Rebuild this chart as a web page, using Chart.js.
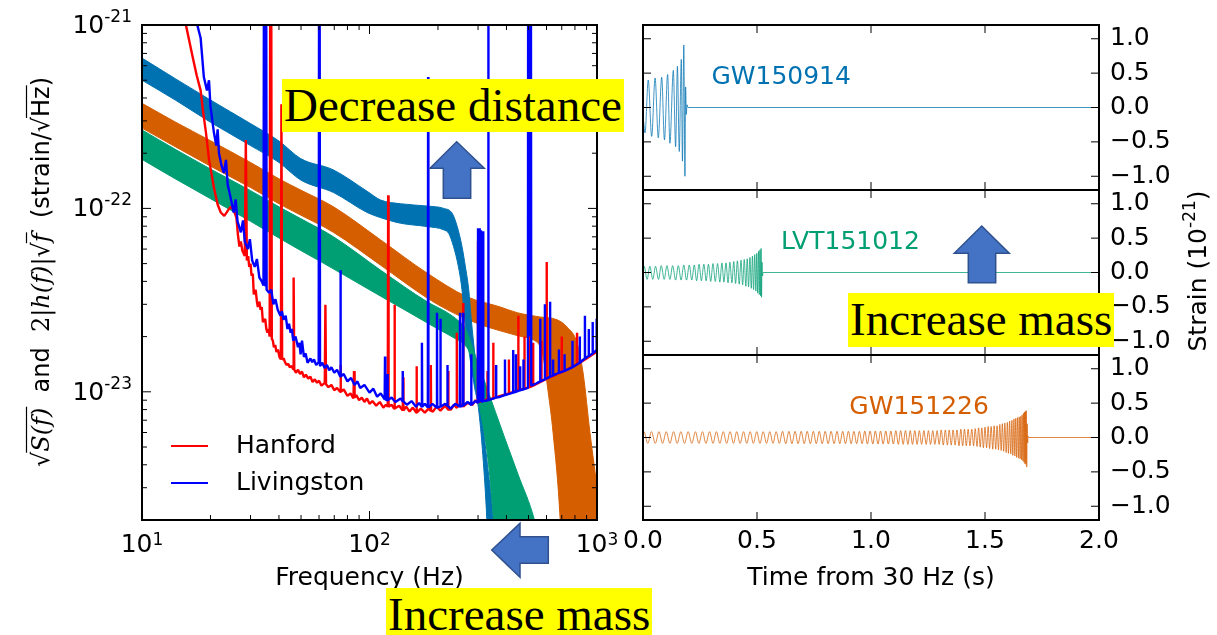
<!DOCTYPE html>
<html>
<head>
<meta charset="utf-8">
<title>GW events: sensitivity and waveforms</title>
<script src="https://cdn.jsdelivr.net/npm/chart.js@4.4.1/dist/chart.umd.min.js"></script>
<style>
  html, body { margin: 0; padding: 0; background: #fff; }
  #page { position: relative; width: 1217px; height: 635px; overflow: hidden; }
  canvas { position: absolute; top: 0; }
  #psd { left: 0; }
  #wave { left: 600px; }
  .note {
    position: absolute; background: #ffff00; color: #000;
    font-family: 'Liberation Serif', 'Times New Roman', serif;
    font-size: 47px; line-height: 53px; height: 53px;
    padding: 0 2px; white-space: nowrap;
  }
  svg { position: absolute; left: 0; top: 0; }
</style>
</head>
<body>
<div id="page">
  <canvas id="psd" width="640" height="635"></canvas>
  <canvas id="wave" width="617" height="635"></canvas>
  <div class="note" style="left:282px; top:79px;">Decrease distance</div>
  <div class="note" style="left:848px; top:293px; height:54px;">Increase mass</div>
  <div class="note" style="left:386px; top:588px;">Increase mass</div>
  <svg width="1217" height="635">
    <polygon points="456.7,141.7 484.3,168.3 470.7,168.3 470.7,198.3 443.3,198.3 443.3,168.3 430,168.3" fill="#4472c4" stroke="#2f528f" stroke-width="1.5"/>
    <polygon points="981.7,226 1009.3,253.3 995.7,253.3 995.7,282.7 968.3,282.7 968.3,253.3 954.3,253.3" fill="#4472c4" stroke="#2f528f" stroke-width="1.5"/>
    <polygon points="491.7,550 520,523.3 520,536.7 548.3,536.7 548.3,563.3 520,563.3 520,577.3" fill="#4472c4" stroke="#2f528f" stroke-width="1.5"/>
  </svg>
</div>

<script>
// ---------- left panel: detector noise, [frequency Hz, strain/sqrt(Hz)]
const hanford = [
  [14.5, 3.0e-21], [15.6, 1.0e-21], [16.7, 6.7e-22], [17.4, 5.3e-22], [18.1, 4.4e-22], [18.6, 3.3e-22],
  [19.1, 2.6e-22], [19.7, 1.85e-22], [20.7, 1.3e-22], [21.5, 1.05e-22], [22.2, 9.5e-23], [23.0, 9.1e-23],
  [23.8, 9.7e-23], [24.5, 1.02e-22], [25.3, 9.8e-23], [26.0, 8.9e-23], [26.4, 7.2e-23], [26.8, 6.2e-23],
  [27.2, 6.6e-23], [27.6, 5.9e-23], [28.3, 5.5e-23], [28.6, 2.36e-22], [28.9, 5.2e-23], [29.3, 5.5e-23],
  [29.6, 4.8e-23], [30.0, 5.0e-23], [30.3, 4.3e-23], [30.7, 4.4e-23], [31.0, 3.4e-23], [31.6, 3.6e-23],
  [32.0, 3.1e-23], [32.3, 2.9e-23], [32.8, 3.1e-23], [33.2, 2.8e-23], [33.6, 2.9e-23], [34.0, 2.4e-23],
  [34.8, 2.5e-23], [35.2, 2.2e-23], [35.6, 2.1e-23], [36.0, 2.2e-23], [36.4, 2.0e-23], [36.8, 1.0e-19],
  [37.2, 1.95e-23], [37.6, 1.9e-23], [38.0, 1.75e-23], [38.5, 1.8e-23], [39.0, 1.65e-23], [39.6, 1.7e-23],
  [40.2, 1.55e-23], [40.8, 1.5e-23], [41.0, 3.7e-22], [41.3, 1.5e-23], [42.0, 1.52e-23], [42.5, 1.45e-23],
  [43.2, 1.40e-23], [44.0, 1.42e-23], [44.6, 1.36e-23], [45.5, 1.38e-23], [46.2, 1.33e-23], [46.4, 4.2e-23],
  [46.7, 1.32e-23], [47.5, 1.27e-23], [48.5, 1.32e-23], [49.5, 1.25e-23], [50.5, 1.29e-23], [51.5, 1.2e-23],
  [52.5, 1.24e-23], [53.8, 1.18e-23], [55.0, 1.21e-23], [56.2, 1.13e-23], [57.5, 1.17e-23], [58.8, 1.12e-23],
  [60.0, 1.15e-23], [61.5, 1.08e-23], [63.6, 1.12e-23], [64.0, 2.98e-23], [64.4, 1.1e-23], [66, 1.06e-23],
  [68, 1.09e-23], [70, 1.02e-23], [72, 1.05e-23], [74.3, 1.0e-23], [74.6, 1.4e-23], [74.9, 1.0e-23],
  [77, 1.03e-23], [80, 9.5e-24], [82.5, 9.8e-24], [85, 9.2e-24], [85.5, 1.3e-23], [86, 9.3e-24],
  [87.5, 9.6e-24], [90, 9.0e-24], [92.5, 9.3e-24], [95, 8.8e-24], [97.5, 9.2e-24], [100, 8.6e-24],
  [103, 8.9e-24], [107, 8.4e-24], [111, 8.8e-24], [115, 8.2e-24], [118, 8.5e-24], [120.3, 8.3e-24],
  [120.8, 1.18e-22], [121.3, 8.3e-24], [125, 8.5e-24], [128.3, 8.1e-24], [128.8, 2.98e-23], [129.3, 8.1e-24],
  [135, 8.4e-24], [140, 7.9e-24], [140.5, 1.2e-23], [141, 7.9e-24], [145, 8.3e-24], [150, 7.8e-24],
  [155, 8.2e-24], [160.5, 7.7e-24], [161, 1.38e-23], [161.5, 7.7e-24], [168, 8.1e-24], [175, 7.7e-24],
  [182, 8.1e-24], [185.5, 7.9e-24], [186, 1.4e-23], [186.5, 7.9e-24], [190, 7.8e-24], [197, 8.3e-24],
  [205, 7.9e-24], [215, 8.4e-24], [221.5, 8.0e-24], [222, 1.3e-23], [222.5, 8.0e-24], [228, 8.0e-24],
  [235, 8.5e-24], [241.5, 8.2e-24], [242, 2.1e-23], [242.5, 8.2e-24], [250, 8.6e-24], [257.5, 8.3e-24],
  [258, 3.05e-23], [258.5, 8.3e-24], [270, 8.7e-24], [284, 8.5e-24], [292, 9.0e-24], [299.5, 8.7e-24],
  [300, 6.6e-23], [300.5, 8.8e-24], [320, 9.0e-24], [329.5, 9.1e-24], [330, 1.3e-23], [330.5, 9.1e-24],
  [349.5, 9.2e-24], [350, 1.85e-23], [350.5, 9.2e-24], [376, 9.5e-24], [409.5, 9.8e-24], [410, 1.5e-23],
  [410.5, 9.8e-24], [450.5, 1.02e-23], [451, 2.6e-23], [451.5, 1.02e-23], [479.5, 1.04e-23], [480, 2.0e-23],
  [480.5, 1.04e-23], [505, 1.06e-23], [506, 4.0e-23], [507, 1.06e-23], [523.5, 1.08e-23], [524, 1.85e-23],
  [524.5, 1.08e-23], [569.5, 1.14e-23], [570, 1.9e-23], [570.5, 1.14e-23], [600.5, 1.18e-23], [601, 5.1e-23],
  [601.5, 1.18e-23], [650, 1.23e-23], [699.5, 1.28e-23], [700, 2.0e-23], [700.5, 1.28e-23], [736, 1.32e-23],
  [816.5, 1.41e-23], [817, 2.1e-23], [817.5, 1.41e-23], [900, 1.52e-23], [1000, 1.66e-23]
];

const livingston = [
  [16.2, 5.0e-21], [17.5, 1.0e-21], [18.1, 8.5e-22], [18.7, 5.2e-22], [19.3, 4.4e-22], [19.7, 5.0e-22],
  [20.0, 3.6e-22], [20.7, 2.6e-22], [21.2, 2.2e-22], [21.5, 2.7e-22], [21.8, 2.0e-22], [22.4, 1.7e-22],
  [22.9, 1.56e-22], [23.4, 1.84e-22], [23.8, 1.35e-22], [24.5, 1.15e-22], [25.3, 9.5e-23], [25.8, 1.12e-22],
  [26.3, 8.5e-23], [27.2, 7.4e-23], [27.8, 8.6e-23], [28.3, 6.6e-23], [29.2, 6.0e-23], [29.8, 6.8e-23],
  [30.5, 5.2e-23], [31.3, 4.8e-23], [32.0, 5.3e-23], [32.8, 4.2e-23], [33.6, 4.0e-23], [34.2, 3.8e-23],
  [34.5, 1.0e-19], [34.75, 3.8e-23], [35.0, 1.0e-19], [35.3, 3.6e-23], [36.2, 3.47e-23], [37.0, 3.6e-23],
  [37.8, 3.0e-23], [38.6, 3.2e-23], [39.5, 2.8e-23], [40.6, 2.6e-23], [41.2, 2.75e-23], [41.9, 2.47e-23],
  [42.8, 2.6e-23], [43.6, 2.2e-23], [44.3, 2.35e-23], [45.0, 2.1e-23], [45.6, 2.2e-23], [46.2, 1.9e-23],
  [47.3, 2.0e-23], [48.5, 1.75e-23], [49.2, 1.85e-23], [49.8, 1.6e-23], [50.5, 1.9e-23], [51.5, 1.55e-23],
  [52.4, 1.62e-23], [53.4, 1.44e-23], [55.0, 1.52e-23], [56.0, 1.45e-23], [57.0, 1.5e-23], [58.3, 1.4e-23],
  [59.8, 1.45e-23], [60.2, 1.0e-19], [60.6, 1.38e-23], [62, 1.44e-23], [63.5, 1.35e-23], [65, 1.4e-23],
  [66.5, 1.31e-23], [68, 1.36e-23], [70, 1.27e-23], [72, 1.32e-23], [74.2, 1.22e-23], [74.5, 4.6e-23],
  [74.8, 1.21e-23], [77, 1.25e-23], [80, 1.14e-23], [83, 1.19e-23], [86, 1.09e-23], [88.5, 1.14e-23],
  [91, 1.05e-23], [95, 1.09e-23], [100, 9.9e-24], [104, 1.04e-23], [108, 9.4e-24], [112, 9.8e-24],
  [116.6, 9.1e-24], [117, 1.56e-23], [117.4, 9.1e-24], [119.6, 9.0e-24], [120, 1.25e-23], [120.4, 9.0e-24],
  [125, 9.3e-24], [130, 8.8e-24], [137, 9.2e-24], [139.5, 8.9e-24], [140, 1.3e-23], [140.5, 8.9e-24],
  [146, 8.5e-24], [153, 8.9e-24], [160, 8.3e-24], [165, 8.7e-24], [169.5, 8.3e-24], [170, 1.85e-23],
  [170.5, 8.3e-24], [175, 8.6e-24], [180.5, 8.2e-24], [181, 5.2e-22], [181.5, 8.2e-24], [189, 8.6e-24],
  [197.5, 8.2e-24], [198, 2.7e-23], [198.5, 8.2e-24], [204.5, 8.3e-24], [205, 2.5e-23], [205.5, 8.3e-24],
  [215, 8.6e-24], [219.5, 8.4e-24], [220, 1.4e-23], [220.5, 8.4e-24], [227, 8.1e-24], [238, 8.6e-24],
  [249.5, 8.3e-24], [250, 2.7e-23], [250.5, 8.3e-24], [257.5, 8.4e-24], [258, 2.7e-23], [258.5, 8.4e-24],
  [270, 8.8e-24], [279.5, 8.5e-24], [280, 1.6e-23], [280.5, 8.5e-24], [292, 8.9e-24], [299.5, 8.7e-24],
  [300, 7.8e-23], [301.5, 8.7e-24], [303, 7.8e-23], [305, 8.8e-24], [309, 7.6e-23], [311, 8.8e-24],
  [315.5, 8.9e-24], [316, 7.5e-23], [316.5, 8.9e-24], [332.5, 9.0e-24], [333, 1.0e-19], [333.5, 9.0e-24],
  [359.5, 9.3e-24], [360, 1.4e-23], [360.5, 9.3e-24], [376, 9.4e-24], [393.5, 9.6e-24], [394, 1.5e-23],
  [394.5, 9.6e-24], [427.5, 9.9e-24], [428, 1.69e-23], [428.5, 9.9e-24], [439.5, 1.0e-23], [440, 1.6e-23],
  [440.5, 1.0e-23], [458.5, 1.02e-23], [459, 1.38e-23], [459.5, 1.02e-23], [474.5, 1.03e-23], [475, 1.5e-23],
  [475.5, 1.03e-23], [497, 1.05e-23], [499, 1.0e-19], [501, 2.0e-23], [504, 1.0e-19], [506, 2.0e-23],
  [508, 1.0e-19], [510, 2.0e-23], [512, 1.0e-19], [514, 1.08e-23], [540, 1.11e-23], [562.5, 1.14e-23],
  [563, 2.5e-23], [563.5, 1.14e-23], [589.5, 1.17e-23], [590, 3.0e-23], [590.5, 1.17e-23], [621.5, 1.21e-23],
  [622, 3.1e-23], [622.5, 1.21e-23], [640.5, 1.23e-23], [641, 1.5e-23], [641.5, 1.23e-23], [679.5, 1.27e-23],
  [680, 1.7e-23], [680.5, 1.27e-23], [719.5, 1.3e-23], [720, 1.6e-23], [720.5, 1.3e-23], [779, 1.36e-23],
  [780, 1.9e-23], [781, 1.36e-23], [839, 1.44e-23], [840, 2.0e-23], [841, 1.44e-23], [884, 1.52e-23],
  [885, 2.6e-23], [886, 1.52e-23], [919, 1.57e-23], [920, 2.2e-23], [921, 1.57e-23], [956, 1.62e-23],
  [957, 2.4e-23], [958, 1.62e-23], [992, 1.68e-23], [995, 2.5e-23], [998, 1.7e-23], [1000, 1.75e-23]
];

// 2|h(f)|sqrt(f) bands, upper and lower edge of each (1e-25 = below the axis)
const gw150914Hi = [
  [10, 6.6e-22], [14, 5.1e-22], [20, 3.9e-22], [30, 2.9e-22], [40, 2.33e-22], [49.8, 1.87e-22],
  [69.5, 1.62e-22], [97.6, 1.24e-22], [112, 1.11e-22], [137, 1.06e-22], [179, 1.03e-22], [212, 1.0e-22],
  [231, 9.4e-23], [243, 7.96e-23], [255, 6.2e-23], [264, 4.8e-23], [273, 3.6e-23], [280, 2.5e-23],
  [292, 1.5e-23], [310, 8e-24], [330, 4e-24], [350, 2e-24], [360, 1e-24], [370, 1e-25], [1000, 1e-25]
];
const gw150914Lo = [
  [10, 5.0e-22], [14, 3.9e-22], [20, 2.95e-22], [30, 2.2e-22], [40, 1.78e-22], [49.8, 1.43e-22],
  [69.5, 1.22e-22], [97.6, 9.5e-23], [112, 8.9e-23], [137, 8.3e-23], [179, 7.96e-23], [212, 7.64e-23],
  [223, 7.3e-23], [234, 6.2e-23], [246, 4.8e-23], [255, 3.6e-23], [262, 2.5e-23], [275, 1.6e-23],
  [290, 1.05e-23], [301, 8.2e-24], [315, 4.5e-24], [328, 2e-24], [335, 1e-24], [345, 1e-25], [1000, 1e-25]
];
const lvt151012Hi = [
  [10, 2.68e-22], [14, 2.1e-22], [20, 1.64e-22], [30, 1.25e-22], [40, 1.02e-22], [49.8, 8.8e-23],
  [69.5, 7.0e-23], [112, 4.6e-23], [179, 3.1e-23], [220, 2.7e-23], [245, 2.45e-23], [262, 2.25e-23],
  [275, 1.95e-23], [286, 1.69e-23], [330, 1.03e-23], [389, 5.8e-24], [450, 3.54e-24], [531, 2.0e-24],
  [560, 1.2e-24], [580, 1e-25], [1000, 1e-25]
];
const lvt151012Lo = [
  [10, 1.85e-22], [14, 1.45e-22], [20, 1.13e-22], [30, 8.5e-23], [40, 6.9e-23], [49.8, 5.9e-23],
  [61, 5.13e-23], [100, 3.6e-23], [150, 2.7e-23], [200, 2.2e-23], [240, 1.94e-23], [262, 1.8e-23],
  [277, 1.6e-23], [290, 1.2e-23], [301, 9.0e-24], [328, 4.8e-24], [351, 2.0e-24], [362, 1e-24],
  [375, 1e-25], [1000, 1e-25]
];
const gw151226Hi = [
  [10, 3.74e-22], [14, 2.96e-22], [20, 2.34e-22], [30, 1.78e-22], [40, 1.45e-22], [49.8, 1.26e-22],
  [69.5, 1.02e-22], [112, 6.73e-23], [179, 4.44e-23], [268, 3.3e-23], [376, 2.9e-23], [446, 2.7e-23],
  [560, 2.56e-23], [668, 2.47e-23], [740, 2.25e-23], [817, 1.85e-23], [870, 1.25e-23], [931, 6.0e-24],
  [1000, 3.04e-24]
];
const gw151226Lo = [
  [10, 2.74e-22], [14, 2.17e-22], [20, 1.7e-22], [30, 1.3e-22], [40, 1.06e-22], [49.8, 9.2e-23],
  [69.5, 7.4e-23], [112, 4.9e-23], [179, 3.25e-23], [220, 2.8e-23], [300, 2.35e-23], [376, 2.15e-23],
  [450, 2.02e-23], [524, 1.92e-23], [560, 1.78e-23], [580, 1.55e-23], [610, 1.0e-23], [641, 6.0e-24],
  [689, 2.0e-24], [705, 1e-24], [720, 1e-25], [1000, 1e-25]
];

// ---------- right panels: whitened waveforms, [time from 30 Hz (s), strain 1e-21]
const gw150914Wave = [
  [0.000, -0.10], [0.009, -0.37], [0.023, 0.40], [0.038, -0.42], [0.053, 0.43], [0.067, -0.44],
  [0.082, 0.44], [0.094, -0.47], [0.108, 0.48], [0.118, -0.52], [0.133, 0.54], [0.143, -0.57],
  [0.151, 0.60], [0.159, -0.64], [0.168, 0.70], [0.173, -0.78], [0.179, 0.91], [0.184, -1.00],
  [0.187, 0.30], [0.190, -0.10], [0.193, 0.04], [0.197, 0.0], [2.0, 0.0]
];

const lvt151012Wave = [
  [0.000, 0.0], [0.005, 0.09], [0.018, -0.10], [0.030, 0.09], [0.043, -0.10], [0.055, 0.09],
  [0.068, -0.10], [0.080, 0.10], [0.093, -0.10], [0.105, 0.10], [0.118, -0.10], [0.130, 0.10],
  [0.143, -0.11], [0.155, 0.10], [0.167, -0.11], [0.179, 0.11], [0.191, -0.11], [0.203, 0.11],
  [0.214, -0.11], [0.225, 0.11], [0.235, -0.12], [0.246, 0.12], [0.256, -0.12], [0.267, 0.12],
  [0.277, -0.12], [0.287, 0.12], [0.297, -0.13], [0.307, 0.13], [0.317, -0.13], [0.327, 0.13],
  [0.337, -0.14], [0.346, 0.14], [0.355, -0.14], [0.364, 0.14], [0.373, -0.15], [0.381, 0.15],
  [0.390, -0.15], [0.398, 0.16], [0.406, -0.16], [0.414, 0.17], [0.422, -0.17], [0.430, 0.18],
  [0.437, -0.18], [0.444, 0.19], [0.451, -0.20], [0.457, 0.20], [0.463, -0.21], [0.469, 0.22],
  [0.475, -0.23], [0.480, 0.24], [0.485, -0.25], [0.490, 0.26], [0.495, -0.27], [0.499, 0.28],
  [0.503, -0.30], [0.507, 0.31], [0.510, -0.32], [0.513, 0.33], [0.516, -0.34], [0.518, 0.35],
  [0.520, -0.36], [0.522, 0.15], [0.524, -0.05], [0.527, 0.0], [2.0, 0.0]
];

const gw151226Wave = [
  [0.000, 0.0], [0.004, 0.085], [0.021, -0.085], [0.037, 0.085], [0.054, -0.085], [0.070, 0.085],
  [0.086, -0.085], [0.102, 0.085], [0.118, -0.085], [0.134, 0.085], [0.150, -0.085], [0.166, 0.085],
  [0.182, -0.085], [0.198, 0.085], [0.214, -0.085], [0.230, 0.085], [0.245, -0.085], [0.261, 0.085],
  [0.276, -0.085], [0.292, 0.085], [0.307, -0.085], [0.322, 0.085], [0.337, -0.085], [0.352, 0.085],
  [0.367, -0.085], [0.382, 0.085], [0.397, -0.085], [0.411, 0.085], [0.426, -0.085], [0.441, 0.085],
  [0.455, -0.085], [0.470, 0.085], [0.484, -0.085], [0.499, 0.085], [0.513, -0.085], [0.527, 0.085],
  [0.542, -0.085], [0.556, 0.085], [0.570, -0.085], [0.584, 0.085], [0.598, -0.085], [0.612, 0.09],
  [0.626, -0.09], [0.640, 0.09], [0.653, -0.09], [0.667, 0.09], [0.680, -0.09], [0.694, 0.09],
  [0.707, -0.09], [0.720, 0.09], [0.734, -0.09], [0.747, 0.09], [0.760, -0.09], [0.773, 0.09],
  [0.786, -0.09], [0.799, 0.09], [0.812, -0.09], [0.825, 0.09], [0.838, -0.09], [0.851, 0.09],
  [0.863, -0.09], [0.876, 0.09], [0.888, -0.09], [0.901, 0.09], [0.913, -0.09], [0.925, 0.09],
  [0.937, -0.09], [0.949, 0.09], [0.961, -0.09], [0.973, 0.095], [0.984, -0.095], [0.996, 0.095],
  [1.008, -0.095], [1.019, 0.095], [1.031, -0.095], [1.042, 0.095], [1.053, -0.095], [1.065, 0.095],
  [1.076, -0.095], [1.087, 0.095], [1.098, -0.095], [1.109, 0.10], [1.120, -0.10], [1.130, 0.10],
  [1.141, -0.10], [1.151, 0.10], [1.162, -0.10], [1.172, 0.10], [1.182, -0.10], [1.192, 0.10],
  [1.202, -0.10], [1.212, 0.10], [1.222, -0.10], [1.232, 0.10], [1.242, -0.10], [1.252, 0.10],
  [1.261, -0.10], [1.271, 0.10], [1.280, -0.10], [1.290, 0.10], [1.299, -0.10], [1.308, 0.11],
  [1.317, -0.11], [1.326, 0.11], [1.335, -0.11], [1.343, 0.11], [1.352, -0.11], [1.360, 0.11],
  [1.369, -0.11], [1.377, 0.11], [1.386, -0.12], [1.394, 0.12], [1.402, -0.12], [1.410, 0.12],
  [1.418, -0.12], [1.426, 0.12], [1.434, -0.12], [1.442, 0.12], [1.450, -0.12], [1.457, 0.13],
  [1.465, -0.13], [1.472, 0.14], [1.479, -0.14], [1.486, 0.14], [1.493, -0.15], [1.500, 0.15],
  [1.507, -0.15], [1.514, 0.16], [1.520, -0.16], [1.527, 0.16], [1.534, -0.17], [1.540, 0.17],
  [1.547, -0.17], [1.553, 0.17], [1.559, -0.18], [1.565, 0.19], [1.571, -0.19], [1.576, 0.20],
  [1.582, -0.20], [1.587, 0.21], [1.593, -0.22], [1.598, 0.22], [1.603, -0.23], [1.608, 0.24],
  [1.613, -0.24], [1.618, 0.25], [1.622, -0.26], [1.627, 0.27], [1.631, -0.27], [1.635, 0.28],
  [1.639, -0.29], [1.643, 0.29], [1.647, -0.30], [1.650, 0.30], [1.654, -0.31], [1.657, 0.31],
  [1.660, -0.32], [1.663, 0.33], [1.666, -0.34], [1.669, 0.35], [1.671, -0.36], [1.673, 0.37],
  [1.675, -0.38], [1.677, 0.38], [1.679, -0.39], [1.681, 0.39], [1.683, -0.43], [1.685, 0.20],
  [1.687, -0.08], [1.689, 0.02], [1.692, 0.0], [2.0, 0.0]
];

// ---------- axes
const freqTicks = [10, 100, 1000];
const freqExp = ['1', '2', '3'];
const freqMinor = [20, 30, 40, 50, 60, 70, 80, 90, 200, 300, 400, 500, 600, 700, 800, 900];
const asdTicks = [1e-23, 1e-22, 1e-21];
const asdExp = ['-23', '-22', '-21'];
const asdMinor = [2e-24, 3e-24, 4e-24, 5e-24, 6e-24, 7e-24, 8e-24, 9e-24,
                  2e-23, 3e-23, 4e-23, 5e-23, 6e-23, 7e-23, 8e-23, 9e-23,
                  2e-22, 3e-22, 4e-22, 5e-22, 6e-22, 7e-22, 8e-22, 9e-22];
const timeTicks = [0, 0.5, 1, 1.5, 2];
const strainTicks = [-1, -0.5, 0, 0.5, 1];

const eventNames = ['GW150914', 'LVT151012', 'GW151226'];
const eventColors = ['#0072B2', '#009E73', '#D55E00'];

Chart.defaults.font.family = "'DejaVu Sans', sans-serif";
Chart.defaults.font.size = 25;
Chart.defaults.color = '#000';

const SANS = "25px 'DejaVu Sans'";
const SUP = "17px 'DejaVu Sans'";
const pts = arr => arr.map(([x, y]) => ({ x, y }));

function tickMark(ctx, x, y, dx, dy) {
  ctx.moveTo(x, y);
  ctx.lineTo(x + dx, y + dy);
}

// "10" with a raised exponent; align is 'right' or 'center'
function powerLabel(ctx, exp, x, baseline, rise, align) {
  ctx.font = SANS;
  const wb = ctx.measureText('10').width;
  ctx.font = SUP;
  const we = ctx.measureText(exp).width;
  const x0 = align === 'right' ? x - wb - we : x - (wb + we) / 2;
  ctx.textAlign = 'left';
  ctx.textBaseline = 'alphabetic';
  ctx.font = SANS;
  ctx.fillText('10', x0, baseline);
  ctx.font = SUP;
  ctx.fillText(exp, x0 + wb, baseline - rise);
}

// frame, inward ticks, tick labels, axis titles and legend for the noise panel
const psdFrame = {
  id: 'psdFrame',
  afterDatasetsDraw(chart) {
    const { ctx, chartArea: a, scales: { x, y } } = chart;
    ctx.save();
    ctx.strokeStyle = '#000';
    ctx.lineWidth = 1;
    ctx.beginPath();
    freqTicks.forEach(v => {
      const px = x.getPixelForValue(v);
      tickMark(ctx, px, a.bottom, 0, -9); tickMark(ctx, px, a.top, 0, 9);
    });
    freqMinor.forEach(v => {
      const px = x.getPixelForValue(v);
      tickMark(ctx, px, a.bottom, 0, -5); tickMark(ctx, px, a.top, 0, 5);
    });
    asdTicks.forEach(v => {
      const py = y.getPixelForValue(v);
      tickMark(ctx, a.left, py, 9, 0); tickMark(ctx, a.right, py, -9, 0);
    });
    asdMinor.forEach(v => {
      const py = y.getPixelForValue(v);
      tickMark(ctx, a.left, py, 5, 0); tickMark(ctx, a.right, py, -5, 0);
    });
    ctx.stroke();
    ctx.lineWidth = 2;
    ctx.strokeRect(a.left, a.top, a.width, a.height);

    ctx.fillStyle = '#000';
    freqTicks.forEach((v, i) => powerLabel(ctx, freqExp[i], x.getPixelForValue(v), a.bottom + 32, 7, 'center'));
    asdTicks.forEach((v, i) => powerLabel(ctx, asdExp[i], a.left - 10, y.getPixelForValue(v) + 8, 11, 'right'));

    // legend
    [chart.data.datasets[0], chart.data.datasets[1]].forEach((d, i) => {
      const ly = 446 + i * 37;
      ctx.strokeStyle = d.borderColor;
      ctx.lineWidth = 2;
      ctx.beginPath(); ctx.moveTo(171, ly); ctx.lineTo(208, ly); ctx.stroke();
      ctx.font = SANS; ctx.textBaseline = 'middle'; ctx.textAlign = 'left';
      ctx.fillText(d.label, 236, ly);
    });

    // x title
    ctx.textAlign = 'center';
    ctx.textBaseline = 'middle';
    ctx.fillText('Frequency (Hz)', (a.left + a.right) / 2, 578);

    // y title: sqrt(S(f)) and 2|h(f)|sqrt(f) (strain/sqrt(Hz))
    const sans = "24px 'DejaVu Sans'";
    const ital = "italic 24px 'DejaVu Serif'";
    const serif = "24px 'DejaVu Serif'";
    const parts = [
      ['\u221a', sans, 0], ['S(f)', ital, 1], ['  and  ', sans, 0], ['2|', serif, 0], ['h(f)', ital, 0],
      ['|', serif, 0], ['\u221a', sans, 0], ['f', ital, 1], ['  (strain/', sans, 0], ['\u221a', sans, 0],
      ['Hz', sans, 1], [')', sans, 0]
    ];
    let total = 0;
    const widths = parts.map(([t, f]) => { ctx.font = f; const w = ctx.measureText(t).width; total += w; return w; });
    ctx.translate(41, 272);
    ctx.rotate(-Math.PI / 2);
    ctx.textAlign = 'left';
    ctx.textBaseline = 'alphabetic';
    ctx.strokeStyle = '#000';
    ctx.lineWidth = 1.2;
    let u = -total / 2;
    parts.forEach(([t, f, over], i) => {
      ctx.font = f;
      ctx.fillText(t, u, 8);
      if (over) {
        ctx.beginPath(); ctx.moveTo(u - 1, -14.5); ctx.lineTo(u + widths[i] + 1, -14.5); ctx.stroke();
      }
      u += widths[i];
    });
    ctx.restore();
  }
};

const band = (data, color, fill, order) => ({
  data: pts(data), borderColor: color, backgroundColor: color, borderWidth: 1,
  pointRadius: 0, fill, order, cubicInterpolationMode: 'monotone'
});

const noise = (label, data, color, order) => ({
  label, data: pts(data), borderColor: color, borderWidth: 2.4, pointRadius: 0,
  fill: false, order, borderJoinStyle: 'bevel'
});

new Chart(document.getElementById('psd'), {
  type: 'line',
  data: {
    datasets: [
      noise('Hanford', hanford, '#ff0000', 2),
      noise('Livingston', livingston, '#0000ff', 1),
      band(lvt151012Hi, '#009E73', '+1', 3),
      band(lvt151012Lo, '#009E73', false, 3),
      band(gw150914Hi, '#0072B2', '+1', 4),
      band(gw150914Lo, '#0072B2', false, 4),
      band(gw151226Hi, '#D55E00', '+1', 5),
      band(gw151226Lo, '#D55E00', false, 5)
    ]
  },
  options: {
    responsive: false,
    animation: false,
    devicePixelRatio: 1,
    layout: { padding: { top: 25, right: 43, left: 0, bottom: 0 } },
    plugins: { legend: { display: false }, tooltip: { enabled: false } },
    scales: {
      x: {
        type: 'logarithmic', min: 10, max: 1000,
        grid: { display: false, drawTicks: false }, border: { display: false },
        afterBuildTicks: s => { s.ticks = freqTicks.map(v => ({ value: v })); },
        afterFit: s => { s.height = 115; },
        ticks: { padding: 10, maxRotation: 0, autoSkip: false, font: { lineHeight: 1 }, callback: () => '' }
      },
      y: {
        type: 'logarithmic', min: 2e-24, max: 1e-21,
        grid: { display: false, drawTicks: false }, border: { display: false },
        afterBuildTicks: s => { s.ticks = asdTicks.map(v => ({ value: v })); },
        afterFit: s => { s.width = 142; },
        ticks: { padding: 10, autoSkip: false, font: { lineHeight: 1 }, callback: () => '' }
      }
    }
  },
  plugins: [psdFrame]
});

// ---------- right: three stacked waveform panels
const panelKeys = ['y1', 'y2', 'y3'];
const labelSpot = [[0.30, 0.43], [0.605, 0.43], [0.905, 0.43]];

const waveFrame = {
  id: 'waveFrame',
  afterDatasetsDraw(chart) {
    const { ctx, chartArea: a, scales } = chart;
    const x = scales.x;
    ctx.save();
    ctx.strokeStyle = '#000';
    panelKeys.forEach((k, i) => {
      const s = scales[k];
      ctx.lineWidth = 1;
      ctx.beginPath();
      strainTicks.forEach(v => {
        const py = s.getPixelForValue(v);
        tickMark(ctx, a.left, py, 8, 0); tickMark(ctx, a.right, py, -8, 0);
      });
      timeTicks.slice(1, -1).forEach(v => {
        const px = x.getPixelForValue(v);
        tickMark(ctx, px, s.top, 0, 8); tickMark(ctx, px, s.bottom, 0, -8);
      });
      ctx.stroke();
      ctx.lineWidth = 2;
      ctx.strokeRect(a.left, s.top, a.width, s.height);

      ctx.font = SANS;
      ctx.textBaseline = 'middle';
      ctx.textAlign = 'left';
      ctx.fillStyle = eventColors[i];
      ctx.fillText(eventNames[i], x.getPixelForValue(labelSpot[i][0]), s.getPixelForValue(labelSpot[i][1]));
    });
    ctx.fillStyle = '#000';
    ctx.font = SANS;
    ctx.textAlign = 'center';
    ctx.fillText('Time from 30 Hz (s)', 271, 578);

    // right title: Strain (10^-21), reading upwards
    ctx.translate(597, 271);
    ctx.rotate(-Math.PI / 2);
    const head = 'Strain (10', tail = ')', exp = '-21';
    ctx.font = SANS;
    const wh = ctx.measureText(head).width, wt = ctx.measureText(tail).width;
    ctx.font = SUP;
    const we = ctx.measureText(exp).width;
    let u = -(wh + we + wt) / 2;
    ctx.textAlign = 'left';
    ctx.textBaseline = 'alphabetic';
    ctx.font = SANS; ctx.fillText(head, u, 9); u += wh;
    ctx.font = SUP; ctx.fillText(exp, u, -2); u += we;
    ctx.font = SANS; ctx.fillText(tail, u, 9);
    ctx.restore();
  }
};

const strainAxis = () => ({
  type: 'linear', position: 'right', stack: 'strain', stackWeight: 1, min: -1.2, max: 1.2,
  grid: { display: false, drawTicks: false }, border: { display: false },
  afterBuildTicks: s => { s.ticks = strainTicks.map(v => ({ value: v })); },
  afterFit: s => { s.width = 118; },
  ticks: { padding: 11, autoSkip: false, font: { lineHeight: 1 },
           callback: v => (v < 0 ? '\u2212' : '') + Math.abs(v).toFixed(1) }
});

const waveSet = (data, i) => ({
  label: eventNames[i], data: pts(data), yAxisID: panelKeys[i],
  borderColor: eventColors[i], borderWidth: 0.75, pointRadius: 0, fill: false,
  cubicInterpolationMode: 'monotone'
});

new Chart(document.getElementById('wave'), {
  type: 'line',
  data: {
    datasets: [
      waveSet(gw150914Wave, 0),
      waveSet(lvt151012Wave, 1),
      waveSet(gw151226Wave, 2)
    ]
  },
  options: {
    responsive: false,
    animation: false,
    devicePixelRatio: 1,
    layout: { padding: { top: 25, left: 43, right: 0, bottom: 0 } },
    plugins: { legend: { display: false }, tooltip: { enabled: false } },
    scales: {
      x: {
        type: 'linear', min: 0, max: 2,
        grid: { display: false, drawTicks: false }, border: { display: false },
        afterBuildTicks: s => { s.ticks = timeTicks.map(v => ({ value: v })); },
        afterFit: s => { s.height = 115; },
        ticks: { padding: 9, maxRotation: 0, autoSkip: false, font: { lineHeight: 1 },
                 callback: v => v.toFixed(1) }
      },
      y1: strainAxis(),
      y2: strainAxis(),
      y3: strainAxis()
    }
  },
  plugins: [waveFrame]
});
</script>
</body>
</html>
